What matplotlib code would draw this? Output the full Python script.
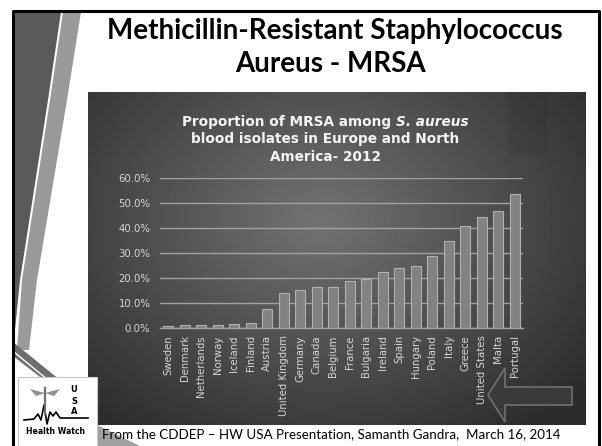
import numpy as np
import matplotlib
matplotlib.use("Agg")
import matplotlib.pyplot as plt
from matplotlib.patches import Polygon, Rectangle

# data
countries = ["Sweden", "Denmark", "Netherlands", "Norway", "Iceland", "Finland",
             "Austria", "United Kingdom", "Germany", "Canada", "Belgium", "France",
             "Bulgaria", "Ireland", "Spain", "Hungary", "Poland", "Italy", "Greece",
             "United States", "Malta", "Portugal"]
mrsa_pct = [0.8, 1.3, 1.3, 1.3, 1.7, 2.0, 7.6, 14.0, 15.3, 16.4, 16.4, 19.1,
            19.9, 22.7, 24.3, 24.8, 29.1, 35.1, 40.9, 44.4, 47.1, 53.7]
y_ticks = [0, 10, 20, 30, 40, 50, 60]

W, H = 602, 446
fig = plt.figure(figsize=(W / 100, H / 100), dpi=100)
fig.patch.set_facecolor("white")

# slide layer in pixel coordinates
bg = fig.add_axes([0, 0, 1, 1])
bg.set_xlim(0, W)
bg.set_ylim(H, 0)
bg.axis("off")

# dark chart panel with radial gradient
px0, px1, py0, py1 = 88, 586, 92, 425
gx, gy = np.meshgrid(np.linspace(px0, px1, 300), np.linspace(py0, py1, 200))
r = np.sqrt(((gx - 320) / 270) ** 2 + ((gy - 220) / 210) ** 2)
shade = np.clip(0.45 - 0.22 * r, 0.17, 0.5)
bg.imshow(shade, cmap="gray", vmin=0, vmax=1, extent=(px0, px1, py1, py0),
          aspect="auto", zorder=1)
bg.add_patch(Rectangle((508, 92), 39, 62, color="black", alpha=0.06, lw=0, zorder=2))

# outline arrow pointing at United States
arrow = [(488, 395), (505, 368), (505, 387), (572, 387), (572, 405),
         (505, 405), (505, 422)]
bg.add_patch(Polygon(arrow, closed=True, fc="#3a3a3a", ec="#707070", lw=1.2, zorder=3))

# left-hand stripes of the slide theme
light = [(63, 12), (81, 12), (67, 100), (37, 280), (29, 350), (17, 350), (22, 280), (50, 100)]
dark = [(43, 12), (61, 12), (48, 100), (20, 280), (14, 340), (12, 340), (12, 12)]
bg.add_patch(Polygon(light, closed=True, fc="#9a9a9a", ec="none", zorder=2))
bg.add_patch(Polygon(dark, closed=True, fc="#5a5a5a", ec="none", zorder=2))
bg.add_patch(Polygon([(13, 342), (13, 356), (44, 380), (60, 380)], closed=True,
                     fc="#6e6e6e", ec="none", zorder=2))
bg.plot([14, 48], [352, 380], color="white", lw=1, zorder=2)

# slide border
bg.plot([12.5, 12.5, 599, 599], [H, 11, 11, H], color="black", lw=2.2, zorder=5)

# footer triangle and logo box
bg.add_patch(Polygon([(97, 425), (97, 446), (140, 446)], closed=True,
                     fc="#a0a0a0", ec="none", zorder=2))
bg.add_patch(Rectangle((18, 377), 79, 70, fc="white", ec="#c8c8c8", lw=0.8, zorder=4))
ecg_x = [24, 34, 38, 41, 44, 47, 50, 53, 56, 60, 88]
ecg_y = [420, 419, 414, 420, 405, 424, 412, 416, 412, 418, 418]
bg.plot(ecg_x, ecg_y, color="black", lw=1.2, zorder=6)
bg.plot([45, 45], [388, 414], color="#707070", lw=1.6, zorder=6)
bg.add_patch(Polygon([(45, 393), (30, 389), (36, 396)], closed=True, fc="#909090", zorder=6))
bg.add_patch(Polygon([(45, 393), (60, 389), (54, 396)], closed=True, fc="#909090", zorder=6))
for ch, yy in zip("USA", [390, 401, 412]):
    bg.text(74, yy, ch, ha="center", va="center", fontsize=6, fontweight="bold",
            family="DejaVu Sans", color="black", zorder=6)
bg.text(56, 432, "Health Watch", ha="center", va="center", fontsize=5.6,
        fontweight="bold", family="DejaVu Sans", color="black", zorder=6)

renderer = fig.canvas.get_renderer()


def fit(t, width):
    bb = t.get_window_extent(renderer)
    t.set_fontsize(t.get_fontsize() * width / bb.width)


# slide title
t1 = bg.text(335, 31, "Methicillin-Resistant Staphylococcus", ha="center", va="center",
             fontsize=17, fontweight="bold", family="Lato", color="black", zorder=6)
fit(t1, 456)
t2 = bg.text(330, 64, "Aureus - MRSA", ha="center", va="center",
             fontsize=t1.get_fontsize(), fontweight="bold", family="Lato",
             color="black", zorder=6)

# footer
ft = bg.text(102, 434, "From the CDDEP \u2013 HW USA Presentation, Samanth Gandra,  March 16, 2014",
             ha="left", va="center", fontsize=10, family="Lato", color="black", zorder=6)
fit(ft, 458)

# chart title (second part of first line in italics)
tcol = "#f4f4f4"
tsize = 9.8
ta = bg.text(0, 122, "Proportion of MRSA among ", ha="left", va="center", fontsize=tsize,
             fontweight="bold", family="DejaVu Sans", color=tcol, zorder=6)
tb = bg.text(0, 122, "S. aureus", ha="left", va="center", fontsize=tsize, fontweight="bold",
             style="italic", family="DejaVu Sans", color=tcol, zorder=6)
wa = ta.get_window_extent(renderer).width
wb = tb.get_window_extent(renderer).width
x_start = 325 - (wa + wb) / 2
ta.set_x(x_start)
tb.set_x(x_start + wa)
bg.text(325, 139.5, "blood isolates in Europe and North", ha="center", va="center",
        fontsize=tsize, fontweight="bold", family="DejaVu Sans", color=tcol, zorder=6)
bg.text(325, 157, "America- 2012", ha="center", va="center",
        fontsize=tsize, fontweight="bold", family="DejaVu Sans", color=tcol, zorder=6)

# bar chart
ax = fig.add_axes([160 / W, 1 - 328.3 / H, 363 / W, 150 / H])
ax.patch.set_alpha(0)
x = np.arange(len(countries))
ax.bar(x, mrsa_pct, width=0.6, color="#828282", edgecolor="#b0b0b0", lw=0.8, zorder=3)
ax.set_xlim(-0.5, len(countries) - 0.5)
ax.set_ylim(0, 60)
ax.set_yticks(y_ticks)
ax.set_yticklabels([f"{v:.1f}%" for v in y_ticks])
ax.yaxis.grid(True, color="#a2a2a2", lw=1.0, zorder=0)
ax.set_xticks(x)
ax.set_xticklabels(countries, rotation=90)
for s in ["top", "right", "left"]:
    ax.spines[s].set_visible(False)
ax.spines["bottom"].set_color("#a2a2a2")
ax.spines["bottom"].set_linewidth(1.0)
ax.tick_params(axis="both", length=0, colors="#d6d6d6", labelsize=7.3)
ax.tick_params(axis="y", pad=7)
ax.tick_params(axis="x", pad=5)

fig.savefig("out.png", dpi=100)
